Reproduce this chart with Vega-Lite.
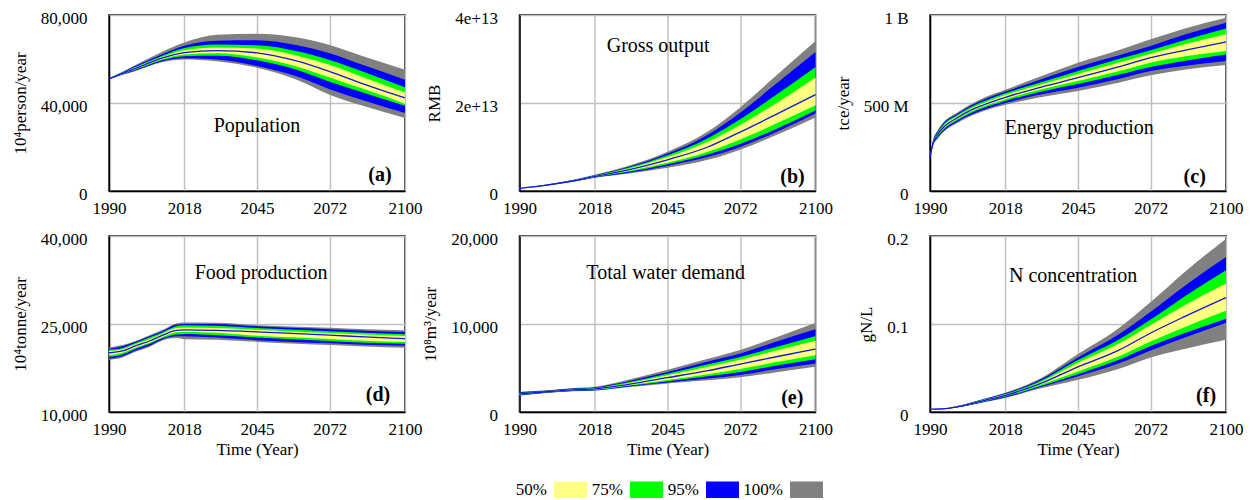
{
  "$schema": "https://vega.github.io/schema/vega-lite/v6.json",
  "padding": {"left": 10, "top": 8, "right": 5, "bottom": 5},
  "background": "white",
  "config": {
    "font": "Liberation Serif",
    "view": {"stroke": "black", "strokeWidth": 1.5},
    "axis": {
      "labelFont": "Liberation Serif", "labelFontSize": 17, "labelColor": "black",
      "titleFont": "Liberation Serif", "titleFontSize": 17, "titleFontWeight": "normal", "titleColor": "black",
      "ticks": false, "tickSize": 0,
      "domainColor": "black", "domainWidth": 1.5,
      "gridColor": "#c0c0c0", "gridWidth": 1.5, "gridOpacity": 1,
      "zindex": 1
    },
    "axisY": {"labelPadding": 22, "titlePadding": 11, "labelOffset": 3},
    "axisX": {"labelPadding": 9, "titlePadding": 4, "labelFlush": false}
  },
  "datasets": {
    "pa": [
      {"year":1990,"lo100":50800,"lo95":50850,"lo75":50900,"lo50":50950,"med":51000,"hi50":51050,"hi75":51100,"hi95":51150,"hi100":51200},
      {"year":1995,"lo100":52800,"lo95":52950,"lo75":53100,"lo50":53300,"med":53500,"hi50":53700,"hi75":53850,"hi95":54000,"hi100":54200},
      {"year":2000,"lo100":54600,"lo95":54900,"lo75":55200,"lo50":55400,"med":55800,"hi50":56200,"hi75":56500,"hi95":56900,"hi100":57400},
      {"year":2010,"lo100":58600,"lo95":59000,"lo75":59600,"lo50":60000,"med":60500,"hi50":61000,"hi75":61600,"hi95":62300,"hi100":63400},
      {"year":2018,"lo100":59800,"lo95":60300,"lo75":61300,"lo50":62000,"med":62900,"hi50":64000,"hi75":65000,"hi95":66000,"hi100":67500},
      {"year":2030,"lo100":59000,"lo95":59800,"lo75":61500,"lo50":62600,"med":63800,"hi50":65200,"hi75":66600,"hi95":68300,"hi100":71000},
      {"year":2045,"lo100":56000,"lo95":56800,"lo75":59400,"lo50":60700,"med":62800,"hi50":64800,"hi75":66200,"hi95":68500,"hi100":71500},
      {"year":2060,"lo100":50500,"lo95":52000,"lo75":55000,"lo50":56500,"med":59000,"hi50":61500,"hi75":63500,"hi95":66200,"hi100":69800},
      {"year":2072,"lo100":43800,"lo95":46300,"lo75":49700,"lo50":51600,"med":54300,"hi50":57400,"hi75":59600,"hi95":62600,"hi100":66400},
      {"year":2085,"lo100":38500,"lo95":41000,"lo75":44500,"lo50":46200,"med":48500,"hi50":51500,"hi75":54000,"hi95":57000,"hi100":61000},
      {"year":2100,"lo100":33200,"lo95":35500,"lo75":38700,"lo50":39700,"med":42300,"hi50":44800,"hi75":47200,"hi95":50600,"hi100":55100}
    ],
    "pb": [
      {"year":1990,"lo100":5.5e11,"lo95":5.7e11,"lo75":5.8e11,"lo50":5.9e11,"med":6.0e11,"hi50":6.1e11,"hi75":6.2e11,"hi95":6.3e11,"hi100":6.5e11},
      {"year":2000,"lo100":1.20e12,"lo95":1.25e12,"lo75":1.28e12,"lo50":1.30e12,"med":1.33e12,"hi50":1.36e12,"hi75":1.38e12,"hi95":1.42e12,"hi100":1.45e12},
      {"year":2010,"lo100":2.10e12,"lo95":2.15e12,"lo75":2.20e12,"lo50":2.25e12,"med":2.30e12,"hi50":2.37e12,"hi75":2.42e12,"hi95":2.50e12,"hi100":2.55e12},
      {"year":2018,"lo100":3.00e12,"lo95":3.05e12,"lo75":3.15e12,"lo50":3.22e12,"med":3.30e12,"hi50":3.40e12,"hi75":3.50e12,"hi95":3.60e12,"hi100":3.70e12},
      {"year":2030,"lo100":3.9e12,"lo95":4.1e12,"lo75":4.3e12,"lo50":4.5e12,"med":4.75e12,"hi50":5.0e12,"hi75":5.2e12,"hi95":5.4e12,"hi100":5.6e12},
      {"year":2045,"lo100":5.3e12,"lo95":5.7e12,"lo75":6.1e12,"lo50":6.4e12,"med":7.1e12,"hi50":7.7e12,"hi75":8.1e12,"hi95":8.5e12,"hi100":8.9e12},
      {"year":2060,"lo100":7.1e12,"lo95":7.7e12,"lo75":8.3e12,"lo50":8.9e12,"med":1.00e13,"hi50":1.12e13,"hi75":1.20e13,"hi95":1.28e13,"hi100":1.35e13},
      {"year":2072,"lo100":9.4e12,"lo95":1.0e13,"lo75":1.07e13,"lo50":1.17e13,"med":1.34e13,"hi50":1.50e13,"hi75":1.63e13,"hi95":1.78e13,"hi100":1.90e13},
      {"year":2085,"lo100":1.26e13,"lo95":1.33e13,"lo75":1.40e13,"lo50":1.52e13,"med":1.73e13,"hi50":1.98e13,"hi75":2.17e13,"hi95":2.42e13,"hi100":2.60e13},
      {"year":2100,"lo100":1.67e13,"lo95":1.76e13,"lo75":1.83e13,"lo50":1.95e13,"med":2.19e13,"hi50":2.58e13,"hi75":2.82e13,"hi95":3.16e13,"hi100":3.41e13}
    ],
    "pc": [
      {"year":1990,"lo100":1.85e8,"lo95":1.86e8,"lo75":1.87e8,"lo50":1.88e8,"med":1.9e8,"hi50":1.91e8,"hi75":1.92e8,"hi95":1.93e8,"hi100":1.95e8},
      {"year":1991,"lo100":2.50e8,"lo95":2.53e8,"lo75":2.58e8,"lo50":2.62e8,"med":2.65e8,"hi50":2.68e8,"hi75":2.72e8,"hi95":2.77e8,"hi100":2.80e8},
      {"year":1993,"lo100":3.00e8,"lo95":3.05e8,"lo75":3.12e8,"lo50":3.18e8,"med":3.25e8,"hi50":3.30e8,"hi75":3.36e8,"hi95":3.42e8,"hi100":3.48e8},
      {"year":1995,"lo100":3.35e8,"lo95":3.40e8,"lo75":3.48e8,"lo50":3.55e8,"med":3.62e8,"hi50":3.70e8,"hi75":3.77e8,"hi95":3.85e8,"hi100":3.90e8},
      {"year":2000,"lo100":3.85e8,"lo95":3.92e8,"lo75":4.00e8,"lo50":4.08e8,"med":4.15e8,"hi50":4.23e8,"hi75":4.30e8,"hi95":4.38e8,"hi100":4.45e8},
      {"year":2005,"lo100":4.25e8,"lo95":4.32e8,"lo75":4.42e8,"lo50":4.50e8,"med":4.58e8,"hi50":4.67e8,"hi75":4.76e8,"hi95":4.85e8,"hi100":4.92e8},
      {"year":2010,"lo100":4.55e8,"lo95":4.62e8,"lo75":4.73e8,"lo50":4.82e8,"med":4.90e8,"hi50":5.00e8,"hi75":5.10e8,"hi95":5.20e8,"hi100":5.30e8},
      {"year":2018,"lo100":4.90e8,"lo95":5.00e8,"lo75":5.12e8,"lo50":5.22e8,"med":5.32e8,"hi50":5.45e8,"hi75":5.55e8,"hi95":5.65e8,"hi100":5.75e8},
      {"year":2030,"lo100":5.30e8,"lo95":5.45e8,"lo75":5.60e8,"lo50":5.72e8,"med":5.85e8,"hi50":6.00e8,"hi75":6.12e8,"hi95":6.28e8,"hi100":6.45e8},
      {"year":2045,"lo100":5.68e8,"lo95":5.87e8,"lo75":6.08e8,"lo50":6.25e8,"med":6.44e8,"hi50":6.65e8,"hi75":6.82e8,"hi95":7.05e8,"hi100":7.29e8},
      {"year":2060,"lo100":6.15e8,"lo95":6.37e8,"lo75":6.60e8,"lo50":6.80e8,"med":7.05e8,"hi50":7.28e8,"hi75":7.50e8,"hi95":7.70e8,"hi100":8.00e8},
      {"year":2072,"lo100":6.57e8,"lo95":6.82e8,"lo75":7.05e8,"lo50":7.29e8,"med":7.58e8,"hi50":7.80e8,"hi75":8.00e8,"hi95":8.24e8,"hi100":8.62e8},
      {"year":2085,"lo100":6.90e8,"lo95":7.12e8,"lo75":7.40e8,"lo50":7.65e8,"med":8.00e8,"hi50":8.35e8,"hi75":8.60e8,"hi95":8.90e8,"hi100":9.25e8},
      {"year":2100,"lo100":7.16e8,"lo95":7.39e8,"lo75":7.76e8,"lo50":7.95e8,"med":8.47e8,"hi50":8.90e8,"hi75":9.24e8,"hi95":9.56e8,"hi100":9.85e8}
    ],
    "pd": [
      {"year":1990,"lo100":18900,"lo95":19100,"lo75":19400,"lo50":19700,"med":20100,"hi50":20400,"hi75":20600,"hi95":20800,"hi100":21000},
      {"year":1995,"lo100":19300,"lo95":19500,"lo75":19800,"lo50":20100,"med":20400,"hi50":20700,"hi75":20900,"hi95":21200,"hi100":21400},
      {"year":2000,"lo100":20300,"lo95":20500,"lo75":20800,"lo50":21000,"med":21300,"hi50":21600,"hi75":21800,"hi95":22000,"hi100":22100},
      {"year":2005,"lo100":21100,"lo95":21300,"lo75":21600,"lo50":21800,"med":22100,"hi50":22400,"hi75":22700,"hi95":22900,"hi100":23100},
      {"year":2010,"lo100":22200,"lo95":22400,"lo75":22600,"lo50":22800,"med":23100,"hi50":23400,"hi75":23600,"hi95":23800,"hi100":24000},
      {"year":2015,"lo100":22600,"lo95":22900,"lo75":23200,"lo50":23600,"med":23900,"hi50":24300,"hi75":24600,"hi95":24900,"hi100":25100},
      {"year":2018,"lo100":22400,"lo95":22900,"lo75":23300,"lo50":23700,"med":24000,"hi50":24400,"hi75":24800,"hi95":25000,"hi100":25250},
      {"year":2030,"lo100":22300,"lo95":22700,"lo75":23100,"lo50":23500,"med":23900,"hi50":24300,"hi75":24700,"hi95":25000,"hi100":25200},
      {"year":2045,"lo100":21950,"lo95":22250,"lo75":22700,"lo50":23000,"med":23650,"hi50":24000,"hi75":24300,"hi95":24600,"hi100":24800},
      {"year":2060,"lo100":21650,"lo95":21900,"lo75":22350,"lo50":22700,"med":23350,"hi50":23700,"hi75":24000,"hi95":24300,"hi100":24550},
      {"year":2072,"lo100":21400,"lo95":21700,"lo75":22100,"lo50":22450,"med":23100,"hi50":23450,"hi75":23750,"hi95":24100,"hi100":24350},
      {"year":2085,"lo100":21150,"lo95":21450,"lo75":21800,"lo50":22150,"med":22800,"hi50":23200,"hi75":23500,"hi95":23850,"hi100":24100},
      {"year":2100,"lo100":20950,"lo95":21300,"lo75":21650,"lo50":21950,"med":22500,"hi50":22950,"hi75":23250,"hi95":23650,"hi100":23950}
    ],
    "pe": [
      {"year":1990,"lo100":1850,"lo95":1900,"lo75":1950,"lo50":2000,"med":2050,"hi50":2100,"hi75":2150,"hi95":2250,"hi100":2300},
      {"year":2000,"lo100":2150,"lo95":2180,"lo75":2220,"lo50":2260,"med":2300,"hi50":2340,"hi75":2380,"hi95":2420,"hi100":2460},
      {"year":2010,"lo100":2350,"lo95":2390,"lo75":2440,"lo50":2480,"med":2520,"hi50":2570,"hi75":2620,"hi95":2670,"hi100":2720},
      {"year":2018,"lo100":2420,"lo95":2470,"lo75":2530,"lo50":2570,"med":2620,"hi50":2670,"hi75":2720,"hi95":2790,"hi100":2870},
      {"year":2024,"lo100":2600,"lo95":2650,"lo75":2710,"lo50":2760,"med":2850,"hi50":2940,"hi75":3010,"hi95":3100,"hi100":3220},
      {"year":2030,"lo100":2800,"lo95":2870,"lo75":2950,"lo50":3020,"med":3120,"hi50":3250,"hi75":3350,"hi95":3480,"hi100":3650},
      {"year":2045,"lo100":3250,"lo95":3350,"lo75":3500,"lo50":3630,"med":3900,"hi50":4180,"hi75":4350,"hi95":4550,"hi100":4800},
      {"year":2060,"lo100":3600,"lo95":3800,"lo75":4050,"lo50":4300,"med":4700,"hi50":5150,"hi75":5420,"hi95":5750,"hi100":6050},
      {"year":2072,"lo100":3950,"lo95":4200,"lo75":4550,"lo50":4900,"med":5450,"hi50":5950,"hi75":6250,"hi95":6650,"hi100":7050},
      {"year":2085,"lo100":4500,"lo95":4850,"lo75":5250,"lo50":5650,"med":6250,"hi50":6950,"hi75":7350,"hi95":7950,"hi100":8450},
      {"year":2100,"lo100":5150,"lo95":5500,"lo75":6000,"lo50":6450,"med":7150,"hi50":8100,"hi75":8650,"hi95":9400,"hi100":10100}
    ],
    "pf": [
      {"year":1990,"lo100":0.0030,"lo95":0.0030,"lo75":0.0031,"lo50":0.0031,"med":0.0032,"hi50":0.0033,"hi75":0.0033,"hi95":0.0034,"hi100":0.0034},
      {"year":1995,"lo100":0.0032,"lo95":0.0033,"lo75":0.0034,"lo50":0.0035,"med":0.0036,"hi50":0.0037,"hi75":0.0038,"hi95":0.0039,"hi100":0.0040},
      {"year":2000,"lo100":0.0050,"lo95":0.0052,"lo75":0.0054,"lo50":0.0056,"med":0.0059,"hi50":0.0062,"hi75":0.0064,"hi95":0.0066,"hi100":0.0068},
      {"year":2010,"lo100":0.0110,"lo95":0.0115,"lo75":0.0120,"lo50":0.0125,"med":0.0130,"hi50":0.0136,"hi75":0.0141,"hi95":0.0146,"hi100":0.0150},
      {"year":2018,"lo100":0.0160,"lo95":0.0167,"lo75":0.0175,"lo50":0.0182,"med":0.0190,"hi50":0.0198,"hi75":0.0205,"hi95":0.0212,"hi100":0.0220},
      {"year":2030,"lo100":0.0260,"lo95":0.0272,"lo75":0.0285,"lo50":0.0297,"med":0.0310,"hi50":0.0325,"hi75":0.0338,"hi95":0.0352,"hi100":0.0366},
      {"year":2045,"lo100":0.0366,"lo95":0.0405,"lo75":0.0430,"lo50":0.0460,"med":0.0512,"hi50":0.0560,"hi75":0.0590,"hi95":0.0620,"hi100":0.0660},
      {"year":2060,"lo100":0.0490,"lo95":0.0550,"lo75":0.0590,"lo50":0.0630,"med":0.0700,"hi50":0.0775,"hi75":0.0820,"hi95":0.0880,"hi100":0.0950},
      {"year":2072,"lo100":0.0620,"lo95":0.0700,"lo75":0.0750,"lo50":0.0800,"med":0.0898,"hi50":0.0990,"hi75":0.1050,"hi95":0.1140,"hi100":0.1250},
      {"year":2085,"lo100":0.0720,"lo95":0.0850,"lo75":0.0900,"lo50":0.0970,"med":0.1090,"hi50":0.1220,"hi75":0.1320,"hi95":0.1440,"hi100":0.1600},
      {"year":2100,"lo100":0.0820,"lo95":0.1015,"lo75":0.1060,"lo50":0.1150,"med":0.1300,"hi50":0.1460,"hi75":0.1610,"hi95":0.1760,"hi100":0.1970}
    ]
  },
  "columns": 3,
  "spacing": {"row": 45, "column": 114.5},
  "bounds": "flush",
  "concat": [
    {
      "width": 296, "height": 176,
      "data": {"name": "pa"},
      "encoding": {"x": {"field": "year", "type": "quantitative", "scale": {"domain": [1990, 2100], "nice": false, "zero": false}, "axis": {"values": [1990, 2018, 2045, 2072, 2100], "format": "d", "title": null}}},
      "layer": [
        {"mark": {"type": "area", "color": "#808080", "opacity": 1, "interpolate": "monotone"}, "encoding": {"y": {"field": "lo100", "type": "quantitative", "scale": {"domain": [0, 80000], "nice": false}, "axis": {"values": [0, 40000, 80000], "format": ",.0f", "title": "10⁴person/year"}}, "y2": {"field": "hi100"}}},
        {"mark": {"type": "area", "color": "#0000FF", "opacity": 1, "interpolate": "monotone"}, "encoding": {"y": {"field": "lo95", "type": "quantitative", "scale": {"domain": [0, 80000], "nice": false}, "axis": {"values": [0, 40000, 80000], "format": ",.0f", "title": "10⁴person/year"}}, "y2": {"field": "hi95"}}},
        {"mark": {"type": "area", "color": "#00FF00", "opacity": 1, "interpolate": "monotone"}, "encoding": {"y": {"field": "lo75", "type": "quantitative", "scale": {"domain": [0, 80000], "nice": false}, "axis": {"values": [0, 40000, 80000], "format": ",.0f", "title": "10⁴person/year"}}, "y2": {"field": "hi75"}}},
        {"mark": {"type": "area", "color": "#FFFF80", "opacity": 1, "interpolate": "monotone"}, "encoding": {"y": {"field": "lo50", "type": "quantitative", "scale": {"domain": [0, 80000], "nice": false}, "axis": {"values": [0, 40000, 80000], "format": ",.0f", "title": "10⁴person/year"}}, "y2": {"field": "hi50"}}},
        {"mark": {"type": "line", "color": "#1414E6", "strokeWidth": 1.3, "interpolate": "monotone"}, "encoding": {"y": {"field": "med", "type": "quantitative", "scale": {"domain": [0, 80000], "nice": false}, "axis": {"values": [0, 40000, 80000], "format": ",.0f", "title": "10⁴person/year"}}}},
        {"data": {"values": [{"year": 2045, "value": 29500, "label": "Population"}]}, "mark": {"type": "text", "font": "Liberation Serif", "fontSize": 20, "align": "center", "baseline": "middle", "color": "black"}, "encoding": {"y": {"field": "value", "type": "quantitative", "scale": {"domain": [0, 80000], "nice": false}, "axis": {"values": [0, 40000, 80000], "format": ",.0f", "title": "10⁴person/year"}}, "text": {"field": "label"}}},
        {"data": {"values": [{"year": 2095, "value": 7200, "label": "(a)"}]}, "mark": {"type": "text", "font": "Liberation Serif", "fontSize": 20, "fontWeight": "bold", "align": "right", "baseline": "middle", "color": "black"}, "encoding": {"y": {"field": "value", "type": "quantitative", "scale": {"domain": [0, 80000], "nice": false}, "axis": {"values": [0, 40000, 80000], "format": ",.0f", "title": "10⁴person/year"}}, "text": {"field": "label"}}}
      ]
    },
    {
      "width": 296, "height": 176,
      "data": {"name": "pb"},
      "encoding": {"x": {"field": "year", "type": "quantitative", "scale": {"domain": [1990, 2100], "nice": false, "zero": false}, "axis": {"values": [1990, 2018, 2045, 2072, 2100], "format": "d", "title": null}}},
      "layer": [
        {"mark": {"type": "area", "color": "#808080", "opacity": 1, "interpolate": "monotone"}, "encoding": {"y": {"field": "lo100", "type": "quantitative", "scale": {"domain": [0, 4e13], "nice": false}, "axis": {"values": [0, 2e13, 4e13], "labelExpr": "datum.value == 0 ? '0' : format(datum.value, '.0e')", "title": "RMB"}}, "y2": {"field": "hi100"}}},
        {"mark": {"type": "area", "color": "#0000FF", "opacity": 1, "interpolate": "monotone"}, "encoding": {"y": {"field": "lo95", "type": "quantitative", "scale": {"domain": [0, 4e13], "nice": false}, "axis": {"values": [0, 2e13, 4e13], "labelExpr": "datum.value == 0 ? '0' : format(datum.value, '.0e')", "title": "RMB"}}, "y2": {"field": "hi95"}}},
        {"mark": {"type": "area", "color": "#00FF00", "opacity": 1, "interpolate": "monotone"}, "encoding": {"y": {"field": "lo75", "type": "quantitative", "scale": {"domain": [0, 4e13], "nice": false}, "axis": {"values": [0, 2e13, 4e13], "labelExpr": "datum.value == 0 ? '0' : format(datum.value, '.0e')", "title": "RMB"}}, "y2": {"field": "hi75"}}},
        {"mark": {"type": "area", "color": "#FFFF80", "opacity": 1, "interpolate": "monotone"}, "encoding": {"y": {"field": "lo50", "type": "quantitative", "scale": {"domain": [0, 4e13], "nice": false}, "axis": {"values": [0, 2e13, 4e13], "labelExpr": "datum.value == 0 ? '0' : format(datum.value, '.0e')", "title": "RMB"}}, "y2": {"field": "hi50"}}},
        {"mark": {"type": "line", "color": "#1414E6", "strokeWidth": 1.3, "interpolate": "monotone"}, "encoding": {"y": {"field": "med", "type": "quantitative", "scale": {"domain": [0, 4e13], "nice": false}, "axis": {"values": [0, 2e13, 4e13], "labelExpr": "datum.value == 0 ? '0' : format(datum.value, '.0e')", "title": "RMB"}}}},
        {"data": {"values": [{"year": 2041.5, "value": 3.3e13, "label": "Gross output"}]}, "mark": {"type": "text", "font": "Liberation Serif", "fontSize": 20, "align": "center", "baseline": "middle", "color": "black"}, "encoding": {"y": {"field": "value", "type": "quantitative", "scale": {"domain": [0, 4e13], "nice": false}, "axis": {"values": [0, 2e13, 4e13], "labelExpr": "datum.value == 0 ? '0' : format(datum.value, '.0e')", "title": "RMB"}}, "text": {"field": "label"}}},
        {"data": {"values": [{"year": 2096, "value": 3.2e12, "label": "(b)"}]}, "mark": {"type": "text", "font": "Liberation Serif", "fontSize": 20, "fontWeight": "bold", "align": "right", "baseline": "middle", "color": "black"}, "encoding": {"y": {"field": "value", "type": "quantitative", "scale": {"domain": [0, 4e13], "nice": false}, "axis": {"values": [0, 2e13, 4e13], "labelExpr": "datum.value == 0 ? '0' : format(datum.value, '.0e')", "title": "RMB"}}, "text": {"field": "label"}}}
      ]
    },
    {
      "width": 296, "height": 176,
      "data": {"name": "pc"},
      "encoding": {"x": {"field": "year", "type": "quantitative", "scale": {"domain": [1990, 2100], "nice": false, "zero": false}, "axis": {"values": [1990, 2018, 2045, 2072, 2100], "format": "d", "title": null}}},
      "layer": [
        {"mark": {"type": "area", "color": "#808080", "opacity": 1, "interpolate": "monotone"}, "encoding": {"y": {"field": "lo100", "type": "quantitative", "scale": {"domain": [0, 1e9], "nice": false}, "axis": {"values": [0, 5e8, 1e9], "labelExpr": "datum.value == 0 ? '0' : datum.value >= 1e9 ? format(datum.value / 1e9, '~g') + ' B' : format(datum.value / 1e6, '~g') + ' M'", "title": "tce/year"}}, "y2": {"field": "hi100"}}},
        {"mark": {"type": "area", "color": "#0000FF", "opacity": 1, "interpolate": "monotone"}, "encoding": {"y": {"field": "lo95", "type": "quantitative", "scale": {"domain": [0, 1e9], "nice": false}, "axis": {"values": [0, 5e8, 1e9], "labelExpr": "datum.value == 0 ? '0' : datum.value >= 1e9 ? format(datum.value / 1e9, '~g') + ' B' : format(datum.value / 1e6, '~g') + ' M'", "title": "tce/year"}}, "y2": {"field": "hi95"}}},
        {"mark": {"type": "area", "color": "#00FF00", "opacity": 1, "interpolate": "monotone"}, "encoding": {"y": {"field": "lo75", "type": "quantitative", "scale": {"domain": [0, 1e9], "nice": false}, "axis": {"values": [0, 5e8, 1e9], "labelExpr": "datum.value == 0 ? '0' : datum.value >= 1e9 ? format(datum.value / 1e9, '~g') + ' B' : format(datum.value / 1e6, '~g') + ' M'", "title": "tce/year"}}, "y2": {"field": "hi75"}}},
        {"mark": {"type": "area", "color": "#FFFF80", "opacity": 1, "interpolate": "monotone"}, "encoding": {"y": {"field": "lo50", "type": "quantitative", "scale": {"domain": [0, 1e9], "nice": false}, "axis": {"values": [0, 5e8, 1e9], "labelExpr": "datum.value == 0 ? '0' : datum.value >= 1e9 ? format(datum.value / 1e9, '~g') + ' B' : format(datum.value / 1e6, '~g') + ' M'", "title": "tce/year"}}, "y2": {"field": "hi50"}}},
        {"mark": {"type": "line", "color": "#1414E6", "strokeWidth": 1.3, "interpolate": "monotone"}, "encoding": {"y": {"field": "med", "type": "quantitative", "scale": {"domain": [0, 1e9], "nice": false}, "axis": {"values": [0, 5e8, 1e9], "labelExpr": "datum.value == 0 ? '0' : datum.value >= 1e9 ? format(datum.value / 1e9, '~g') + ' B' : format(datum.value / 1e6, '~g') + ' M'", "title": "tce/year"}}}},
        {"data": {"values": [{"year": 2045.5, "value": 3.6e8, "label": "Energy production"}]}, "mark": {"type": "text", "font": "Liberation Serif", "fontSize": 20, "align": "center", "baseline": "middle", "color": "black"}, "encoding": {"y": {"field": "value", "type": "quantitative", "scale": {"domain": [0, 1e9], "nice": false}, "axis": {"values": [0, 5e8, 1e9], "labelExpr": "datum.value == 0 ? '0' : datum.value >= 1e9 ? format(datum.value / 1e9, '~g') + ' B' : format(datum.value / 1e6, '~g') + ' M'", "title": "tce/year"}}, "text": {"field": "label"}}},
        {"data": {"values": [{"year": 2092.5, "value": 8e7, "label": "(c)"}]}, "mark": {"type": "text", "font": "Liberation Serif", "fontSize": 20, "fontWeight": "bold", "align": "right", "baseline": "middle", "color": "black"}, "encoding": {"y": {"field": "value", "type": "quantitative", "scale": {"domain": [0, 1e9], "nice": false}, "axis": {"values": [0, 5e8, 1e9], "labelExpr": "datum.value == 0 ? '0' : datum.value >= 1e9 ? format(datum.value / 1e9, '~g') + ' B' : format(datum.value / 1e6, '~g') + ' M'", "title": "tce/year"}}, "text": {"field": "label"}}}
      ]
    },
    {
      "width": 296, "height": 176,
      "data": {"name": "pd"},
      "encoding": {"x": {"field": "year", "type": "quantitative", "scale": {"domain": [1990, 2100], "nice": false, "zero": false}, "axis": {"values": [1990, 2018, 2045, 2072, 2100], "format": "d", "title": "Time (Year)"}}},
      "layer": [
        {"mark": {"type": "area", "color": "#808080", "opacity": 1, "interpolate": "monotone"}, "encoding": {"y": {"field": "lo100", "type": "quantitative", "scale": {"domain": [10000, 40000], "nice": false, "zero": false}, "axis": {"values": [10000, 25000, 40000], "format": ",.0f", "title": "10⁴tonne/year"}}, "y2": {"field": "hi100"}}},
        {"mark": {"type": "area", "color": "#0000FF", "opacity": 1, "interpolate": "monotone"}, "encoding": {"y": {"field": "lo95", "type": "quantitative", "scale": {"domain": [10000, 40000], "nice": false, "zero": false}, "axis": {"values": [10000, 25000, 40000], "format": ",.0f", "title": "10⁴tonne/year"}}, "y2": {"field": "hi95"}}},
        {"mark": {"type": "area", "color": "#00FF00", "opacity": 1, "interpolate": "monotone"}, "encoding": {"y": {"field": "lo75", "type": "quantitative", "scale": {"domain": [10000, 40000], "nice": false, "zero": false}, "axis": {"values": [10000, 25000, 40000], "format": ",.0f", "title": "10⁴tonne/year"}}, "y2": {"field": "hi75"}}},
        {"mark": {"type": "area", "color": "#FFFF80", "opacity": 1, "interpolate": "monotone"}, "encoding": {"y": {"field": "lo50", "type": "quantitative", "scale": {"domain": [10000, 40000], "nice": false, "zero": false}, "axis": {"values": [10000, 25000, 40000], "format": ",.0f", "title": "10⁴tonne/year"}}, "y2": {"field": "hi50"}}},
        {"mark": {"type": "line", "color": "#1414E6", "strokeWidth": 1.3, "interpolate": "monotone"}, "encoding": {"y": {"field": "med", "type": "quantitative", "scale": {"domain": [10000, 40000], "nice": false, "zero": false}, "axis": {"values": [10000, 25000, 40000], "format": ",.0f", "title": "10⁴tonne/year"}}}},
        {"data": {"values": [{"year": 2046.5, "value": 33700, "label": "Food production"}]}, "mark": {"type": "text", "font": "Liberation Serif", "fontSize": 20, "align": "center", "baseline": "middle", "color": "black"}, "encoding": {"y": {"field": "value", "type": "quantitative", "scale": {"domain": [10000, 40000], "nice": false, "zero": false}, "axis": {"values": [10000, 25000, 40000], "format": ",.0f", "title": "10⁴tonne/year"}}, "text": {"field": "label"}}},
        {"data": {"values": [{"year": 2094.5, "value": 12900, "label": "(d)"}]}, "mark": {"type": "text", "font": "Liberation Serif", "fontSize": 20, "fontWeight": "bold", "align": "right", "baseline": "middle", "color": "black"}, "encoding": {"y": {"field": "value", "type": "quantitative", "scale": {"domain": [10000, 40000], "nice": false, "zero": false}, "axis": {"values": [10000, 25000, 40000], "format": ",.0f", "title": "10⁴tonne/year"}}, "text": {"field": "label"}}}
      ]
    },
    {
      "width": 296, "height": 176,
      "data": {"name": "pe"},
      "encoding": {"x": {"field": "year", "type": "quantitative", "scale": {"domain": [1990, 2100], "nice": false, "zero": false}, "axis": {"values": [1990, 2018, 2045, 2072, 2100], "format": "d", "title": "Time (Year)"}}},
      "layer": [
        {"mark": {"type": "area", "opacity": 1, "interpolate": "monotone"}, "encoding": {"y": {"field": "lo100", "type": "quantitative", "scale": {"domain": [0, 20000], "nice": false}, "axis": {"values": [0, 10000, 20000], "format": ",.0f", "title": "10⁸m³/year"}}, "y2": {"field": "hi100"},
          "color": {"datum": "100%", "type": "nominal", "scale": {"domain": ["50%", "75%", "95%", "100%"], "range": ["#FFFF80", "#00FF00", "#0000FF", "#808080"]},
            "legend": {"title": null, "orient": "none", "legendX": 445, "legendY": 458, "direction": "horizontal", "symbolType": "M-1,-0.5H1V0.5H-1Z", "symbolSize": 1089, "symbolStrokeWidth": 0, "symbolOpacity": 1, "labelAlign": "right", "labelOffset": -40, "labelFont": "Liberation Serif", "labelFontSize": 17, "labelColor": "black", "columnPadding": 4, "labelLimit": 0}}}},
        {"mark": {"type": "area", "opacity": 1, "interpolate": "monotone"}, "encoding": {"y": {"field": "lo95", "type": "quantitative", "scale": {"domain": [0, 20000], "nice": false}, "axis": {"values": [0, 10000, 20000], "format": ",.0f", "title": "10⁸m³/year"}}, "y2": {"field": "hi95"},
          "color": {"datum": "95%", "type": "nominal", "scale": {"domain": ["50%", "75%", "95%", "100%"], "range": ["#FFFF80", "#00FF00", "#0000FF", "#808080"]}}}},
        {"mark": {"type": "area", "opacity": 1, "interpolate": "monotone"}, "encoding": {"y": {"field": "lo75", "type": "quantitative", "scale": {"domain": [0, 20000], "nice": false}, "axis": {"values": [0, 10000, 20000], "format": ",.0f", "title": "10⁸m³/year"}}, "y2": {"field": "hi75"},
          "color": {"datum": "75%", "type": "nominal", "scale": {"domain": ["50%", "75%", "95%", "100%"], "range": ["#FFFF80", "#00FF00", "#0000FF", "#808080"]}}}},
        {"mark": {"type": "area", "opacity": 1, "interpolate": "monotone"}, "encoding": {"y": {"field": "lo50", "type": "quantitative", "scale": {"domain": [0, 20000], "nice": false}, "axis": {"values": [0, 10000, 20000], "format": ",.0f", "title": "10⁸m³/year"}}, "y2": {"field": "hi50"},
          "color": {"datum": "50%", "type": "nominal", "scale": {"domain": ["50%", "75%", "95%", "100%"], "range": ["#FFFF80", "#00FF00", "#0000FF", "#808080"]}}}},
        {"mark": {"type": "line", "color": "#1414E6", "strokeWidth": 1.3, "interpolate": "monotone"}, "encoding": {"y": {"field": "med", "type": "quantitative", "scale": {"domain": [0, 20000], "nice": false}, "axis": {"values": [0, 10000, 20000], "format": ",.0f", "title": "10⁸m³/year"}}}},
        {"data": {"values": [{"year": 2044.3, "value": 15800, "label": "Total water demand"}]}, "mark": {"type": "text", "font": "Liberation Serif", "fontSize": 20, "align": "center", "baseline": "middle", "color": "black"}, "encoding": {"y": {"field": "value", "type": "quantitative", "scale": {"domain": [0, 20000], "nice": false}, "axis": {"values": [0, 10000, 20000], "format": ",.0f", "title": "10⁸m³/year"}}, "text": {"field": "label"}}},
        {"data": {"values": [{"year": 2095.5, "value": 1600, "label": "(e)"}]}, "mark": {"type": "text", "font": "Liberation Serif", "fontSize": 20, "fontWeight": "bold", "align": "right", "baseline": "middle", "color": "black"}, "encoding": {"y": {"field": "value", "type": "quantitative", "scale": {"domain": [0, 20000], "nice": false}, "axis": {"values": [0, 10000, 20000], "format": ",.0f", "title": "10⁸m³/year"}}, "text": {"field": "label"}}}
      ]
    },
    {
      "width": 296, "height": 176,
      "data": {"name": "pf"},
      "encoding": {"x": {"field": "year", "type": "quantitative", "scale": {"domain": [1990, 2100], "nice": false, "zero": false}, "axis": {"values": [1990, 2018, 2045, 2072, 2100], "format": "d", "title": "Time (Year)"}}},
      "layer": [
        {"mark": {"type": "area", "color": "#808080", "opacity": 1, "interpolate": "monotone"}, "encoding": {"y": {"field": "lo100", "type": "quantitative", "scale": {"domain": [0, 0.2], "nice": false}, "axis": {"values": [0, 0.1, 0.2], "format": "~g", "title": "gN/L"}}, "y2": {"field": "hi100"}}},
        {"mark": {"type": "area", "color": "#0000FF", "opacity": 1, "interpolate": "monotone"}, "encoding": {"y": {"field": "lo95", "type": "quantitative", "scale": {"domain": [0, 0.2], "nice": false}, "axis": {"values": [0, 0.1, 0.2], "format": "~g", "title": "gN/L"}}, "y2": {"field": "hi95"}}},
        {"mark": {"type": "area", "color": "#00FF00", "opacity": 1, "interpolate": "monotone"}, "encoding": {"y": {"field": "lo75", "type": "quantitative", "scale": {"domain": [0, 0.2], "nice": false}, "axis": {"values": [0, 0.1, 0.2], "format": "~g", "title": "gN/L"}}, "y2": {"field": "hi75"}}},
        {"mark": {"type": "area", "color": "#FFFF80", "opacity": 1, "interpolate": "monotone"}, "encoding": {"y": {"field": "lo50", "type": "quantitative", "scale": {"domain": [0, 0.2], "nice": false}, "axis": {"values": [0, 0.1, 0.2], "format": "~g", "title": "gN/L"}}, "y2": {"field": "hi50"}}},
        {"mark": {"type": "line", "color": "#1414E6", "strokeWidth": 1.3, "interpolate": "monotone"}, "encoding": {"y": {"field": "med", "type": "quantitative", "scale": {"domain": [0, 0.2], "nice": false}, "axis": {"values": [0, 0.1, 0.2], "format": "~g", "title": "gN/L"}}}},
        {"data": {"values": [{"year": 2043.2, "value": 0.1547, "label": "N concentration"}]}, "mark": {"type": "text", "font": "Liberation Serif", "fontSize": 20, "align": "center", "baseline": "middle", "color": "black"}, "encoding": {"y": {"field": "value", "type": "quantitative", "scale": {"domain": [0, 0.2], "nice": false}, "axis": {"values": [0, 0.1, 0.2], "format": "~g", "title": "gN/L"}}, "text": {"field": "label"}}},
        {"data": {"values": [{"year": 2096.3, "value": 0.0186, "label": "(f)"}]}, "mark": {"type": "text", "font": "Liberation Serif", "fontSize": 20, "fontWeight": "bold", "align": "right", "baseline": "middle", "color": "black"}, "encoding": {"y": {"field": "value", "type": "quantitative", "scale": {"domain": [0, 0.2], "nice": false}, "axis": {"values": [0, 0.1, 0.2], "format": "~g", "title": "gN/L"}}, "text": {"field": "label"}}}
      ]
    }
  ]
}
